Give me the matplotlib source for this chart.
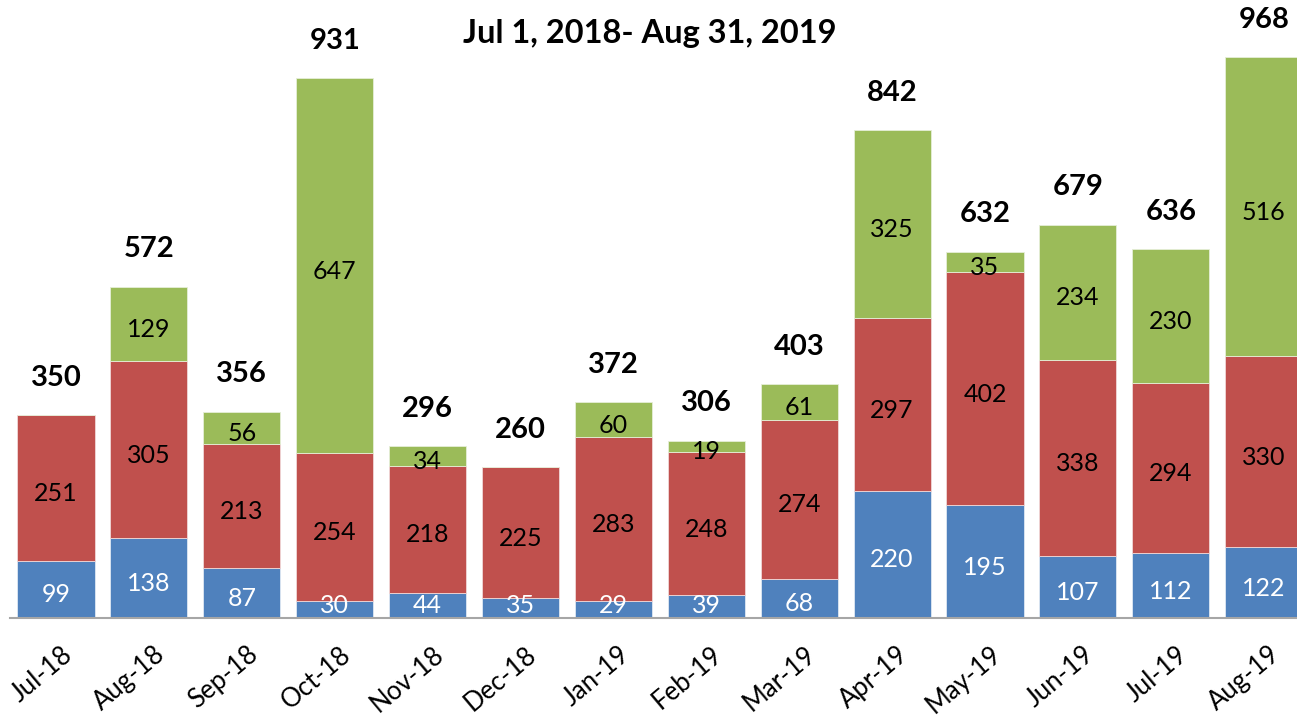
import matplotlib
matplotlib.use('Agg')
import matplotlib.pyplot as plt
import matplotlib.transforms as mtransforms

# Data
months = ['Jul-18', 'Aug-18', 'Sep-18', 'Oct-18', 'Nov-18', 'Dec-18', 'Jan-19',
          'Feb-19', 'Mar-19', 'Apr-19', 'May-19', 'Jun-19', 'Jul-19', 'Aug-19']
blue = [99, 138, 87, 30, 44, 35, 29, 39, 68, 220, 195, 107, 112, 122]
red = [251, 305, 213, 254, 218, 225, 283, 248, 274, 297, 402, 338, 294, 330]
green = [0, 129, 56, 647, 34, 0, 60, 19, 61, 325, 35, 234, 230, 516]
title = 'Jul 1, 2018- Aug 31, 2019'

plt.rcParams['font.family'] = ['Lato', 'DejaVu Sans']

c_blue, c_red, c_green = '#4F81BD', '#C0504D', '#9BBB59'

fig = plt.figure(figsize=(12.97, 7.17), dpi=100)
ax = fig.add_axes([0, 99 / 717, 1, 618 / 717])

x = list(range(len(months)))
w = 0.83
bottom2 = [b + r for b, r in zip(blue, red)]
totals = [b + r + g for b, r, g in zip(blue, red, green)]

ax.bar(x, blue, w, color=c_blue, edgecolor='#dfe8f3', linewidth=0.6)
ax.bar(x, red, w, bottom=blue, color=c_red, edgecolor='#f0d8d8', linewidth=0.6)
ax.bar(x, green, w, bottom=bottom2, color=c_green, edgecolor='#e6eed8', linewidth=0.6)

def seg_label(xi, y, val, col):
    ax.annotate(str(val), (xi, y), xytext=(0, -4), textcoords='offset points',
                ha='center', va='center', color=col, fontsize=18)

for i in x:
    # keep the small blue labels just above the axis line
    seg_label(i, max(blue[i] / 2, 32), blue[i], 'white')
    seg_label(i, blue[i] + red[i] / 2, red[i], 'black')
    if green[i]:
        seg_label(i, bottom2[i] + green[i] / 2, green[i], 'black')
    ax.annotate(str(totals[i]), (i, totals[i]), xytext=(0, 27), textcoords='offset points',
                ha='center', va='center', fontsize=21, fontweight='bold',
                annotation_clip=False)

x0 = -56 / 92.9
ax.set_xlim(x0, x0 + 1297 / 92.9)
ax.set_ylim(0, 618 / 0.5795)

for s in ['top', 'left', 'right']:
    ax.spines[s].set_visible(False)
ax.spines['bottom'].set_color('#a6a6a6')
ax.spines['bottom'].set_linewidth(1.5)
ax.spines['bottom'].set_bounds(x0 + 10 / 92.9, x0 + 1297 / 92.9)
ax.set_yticks([])
ax.set_xticks(x)
ax.set_xticklabels(months, rotation=40, ha='right', rotation_mode='anchor', fontsize=18.5)
ax.tick_params(axis='x', length=0, pad=17)
shift = mtransforms.ScaledTranslation(5 / 100, 0, fig.dpi_scale_trans)
for lbl in ax.get_xticklabels():
    lbl.set_transform(lbl.get_transform() + shift)

fig.text(650 / 1297, 1 - 34 / 717, title, ha='center', va='center',
         fontsize=23.5, fontweight='bold')

fig.savefig('out.png', dpi=100)
